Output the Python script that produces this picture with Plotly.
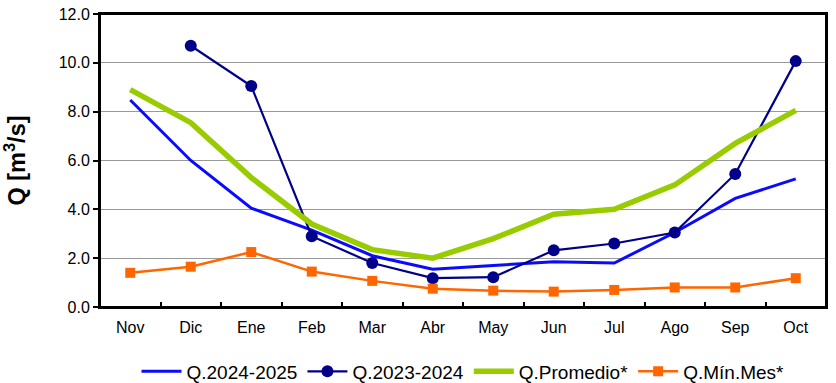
import plotly.graph_objects as go

months = ["Nov", "Dic", "Ene", "Feb", "Mar", "Abr", "May", "Jun", "Jul", "Ago", "Sep", "Oct"]
q_2024_2025 = [8.48, 6.0, 4.05, 3.15, 2.1, 1.55, 1.7, 1.85, 1.8, 3.05, 4.45, 5.25]
q_2023_2024 = [None, 10.7, 9.05, 2.9, 1.8, 1.18, 1.22, 2.32, 2.6, 3.05, 5.45, 10.07]
q_promedio = [8.9, 7.55, 5.3, 3.4, 2.35, 2.0, 2.8, 3.8, 4.0, 5.0, 6.7, 8.05]
q_min_mes = [1.4, 1.65, 2.25, 1.45, 1.07, 0.75, 0.67, 0.63, 0.7, 0.8, 0.8, 1.18]
y_ticks = [0, 2, 4, 6, 8, 10, 12]

fig = go.Figure()
fig.add_trace(go.Scatter(x=months, y=q_2024_2025, name="Q.2024-2025", mode="lines",
                         line=dict(color="#0a0aff", width=3)))
fig.add_trace(go.Scatter(x=months, y=q_2023_2024, name="Q.2023-2024", mode="lines+markers",
                         line=dict(color="#000088", width=2.2),
                         marker=dict(symbol="circle", size=12, color="#000088")))
fig.add_trace(go.Scatter(x=months, y=q_promedio, name="Q.Promedio*", mode="lines",
                         line=dict(color="#99cc00", width=5.5)))
fig.add_trace(go.Scatter(x=months, y=q_min_mes, name="Q.Mín.Mes*", mode="lines+markers",
                         line=dict(color="#ff6600", width=2.5),
                         marker=dict(symbol="square", size=10, color="#ff6600")))

fig.update_layout(
    width=836, height=383,
    margin=dict(l=100, r=10, t=14, b=76, autoexpand=False),
    paper_bgcolor="white", plot_bgcolor="white",
    font=dict(family="Liberation Sans, Arial, sans-serif", size=16, color="black"),
    showlegend=True,
    legend=dict(orientation="h", x=0.5, xanchor="center", xref="paper",
                yref="container", y=0.03, yanchor="middle",
                font=dict(size=19), itemwidth=40, tracegroupgap=0),
)
# plot-area frame
fig.add_shape(type="rect", xref="paper", yref="paper", x0=0, y0=0, x1=1, y1=1,
              line=dict(color="black", width=2), fillcolor="rgba(0,0,0,0)", layer="above")
fig.update_xaxes(type="category", showline=True, linecolor="black", linewidth=2,
                 mirror=True, ticks="inside", tickson="boundaries", ticklen=5,
                 tickcolor="black", tickwidth=1.5, showgrid=False, automargin=False,
                 tickfont=dict(size=16), range=[-0.5, 11.5], ticklabelstandoff=5)
fig.update_yaxes(range=[0, 12], tickvals=y_ticks,
                 ticktext=[f"{v:.1f}" for v in y_ticks],
                 showline=True, linecolor="black", linewidth=2, mirror=True,
                 ticks="outside", ticklen=5, tickcolor="black", tickwidth=1.5,
                 showgrid=True, gridcolor="#999999", gridwidth=1, automargin=False,
                 tickfont=dict(size=16), zeroline=False,
                 title=dict(text="<b>Q [m<sup>3</sup>/s]</b>", font=dict(size=23.5), standoff=40))

fig.write_html("out.html", config={"displayModeBar": False},
               post_script="document.body.style.margin='0';")
